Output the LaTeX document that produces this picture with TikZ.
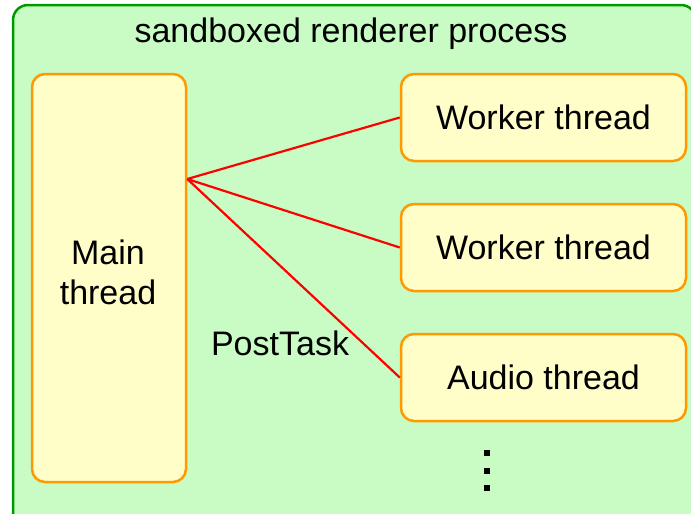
\documentclass[tikz,border=0pt]{standalone}
\usepackage{fontspec}
\setmainfont{Liberation Sans}

\definecolor{sandboxfill}{RGB}{200,252,196}
\definecolor{sandboxline}{RGB}{0,153,0}
\definecolor{threadfill}{RGB}{255,253,200}
\definecolor{threadline}{RGB}{255,153,0}

\tikzset{
  bigtext/.style={font=\fontsize{34}{40}\selectfont, inner sep=0pt},
  thread/.style={draw=threadline, fill=threadfill, line width=2.5pt,
    rounded corners=13pt, bigtext},
  posttask/.style={red, line width=2.2pt},
}

\begin{document}
\begin{tikzpicture}[x=1pt,y=-1pt]
\useasboundingbox (0,0) rectangle (691,514);
\clip (0,0) rectangle (691,514);

% the process box, runs off the right and bottom
\draw[sandboxline, fill=sandboxfill, line width=2.5pt, rounded corners=15pt]
  (13,5) rectangle (696,528);
\node[bigtext, anchor=base] (title) at (351,42) {sandboxed renderer process};

% main thread
\node[thread, minimum width=154pt, minimum height=408pt] (main) at (109,278) {};
\node[bigtext, align=center] (maintext) at (108,272) {Main\\thread};

% other threads
\foreach \name/\txt/\y in {worker1/Worker thread/117.5,
                           worker2/Worker thread/247.5,
                           audio/Audio thread/377.5}
  \node[thread, minimum width=285pt, minimum height=87pt] (\name) at (543.5,\y) {\txt};

\coordinate (fork) at ([yshift=99pt]main.east);
\foreach \t in {worker1,worker2,audio}
  \draw[posttask] (fork) -- (\t.west);

\node[bigtext, anchor=base] (post) at (280,355) {PostTask};

% more threads below
\foreach \y in {453,471,488}
  \fill (484,\y-3) rectangle ++(6,6);
\end{tikzpicture}
\end{document}
